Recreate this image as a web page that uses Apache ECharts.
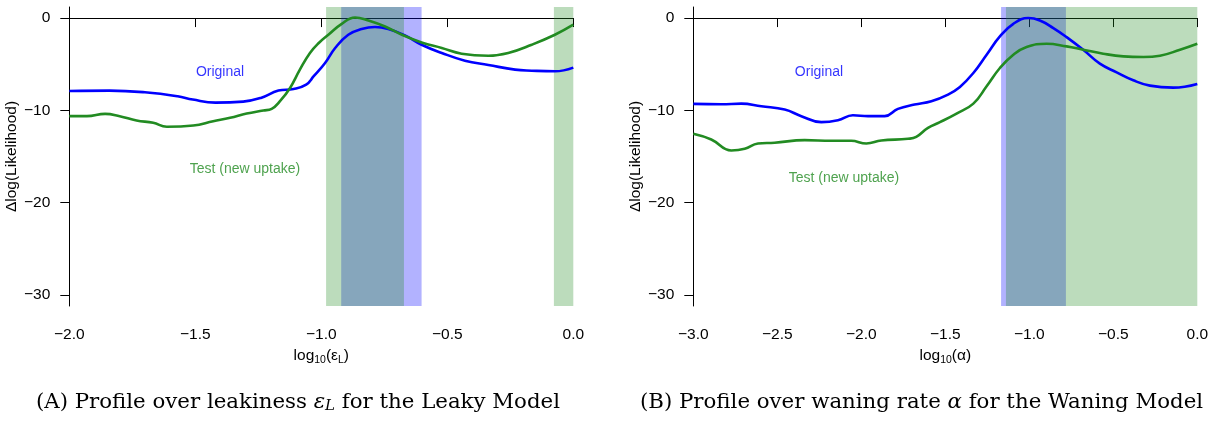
<!DOCTYPE html>
<html>
<head>
<meta charset="utf-8">
<script src="https://cdn.jsdelivr.net/npm/echarts@6/dist/echarts.min.js"></script>
<style>
html,body{margin:0;padding:0;background:#fff;}
#chart{width:1220px;height:426px;}
</style>
</head>
<body>
<div id="chart"></div>
<script>
// ---- Data ----
// Panel A: profile over log10(epsilon_L), Leaky Model
const leakOriginal = [
  [-2.0,-7.9],[-1.84,-7.86],[-1.70,-8.04],[-1.57,-8.47],[-1.51,-8.83],[-1.42,-9.16],
  [-1.31,-9.05],[-1.24,-8.65],[-1.17,-7.86],[-1.11,-7.68],[-1.06,-7.21],[-1.03,-6.3],
  [-0.985,-4.87],[-0.945,-3.24],[-0.893,-1.81],[-0.84,-1.19],[-0.787,-0.97],[-0.734,-1.19],
  [-0.668,-1.88],[-0.602,-2.89],[-0.522,-3.78],[-0.43,-4.62],[-0.337,-5.08],[-0.231,-5.59],
  [-0.165,-5.7],[-0.073,-5.77],[0.0,-5.37]
];
const leakTest = [
  [-2.0,-10.63],[-1.93,-10.63],[-1.858,-10.38],[-1.80,-10.63],[-1.733,-11.1],[-1.667,-11.35],
  [-1.613,-11.78],[-1.508,-11.64],[-1.429,-11.18],[-1.362,-10.81],[-1.296,-10.35],[-1.23,-10.02],
  [-1.197,-9.84],[-1.164,-9.01],[-1.124,-7.57],[-1.085,-5.59],[-1.045,-3.78],[-1.01,-2.7],
  [-0.972,-1.81],[-0.919,-0.62],[-0.866,0.07],[-0.813,-0.26],[-0.747,-0.91],[-0.68,-1.81],
  [-0.602,-2.64],[-0.522,-3.24],[-0.443,-3.86],[-0.337,-4.08],[-0.258,-3.78],[-0.165,-2.89],
  [-0.073,-1.81],[0.0,-0.72]
];
const leakOriginalCI = [[-0.921,-0.602]];
const leakTestCI = [[-0.981,-0.672],[-0.077,0.0]];

// Panel B: profile over log10(alpha), Waning Model
const waneOriginal = [
  [-3.0,-9.3],[-2.833,-9.34],[-2.714,-9.27],[-2.595,-9.56],[-2.456,-9.91],[-2.357,-10.63],
  [-2.238,-11.28],[-2.139,-11.07],[-2.05,-10.53],[-1.96,-10.63],[-1.861,-10.63],[-1.782,-9.84],
  [-1.683,-9.37],[-1.583,-9.01],[-1.484,-8.29],[-1.413,-7.46],[-1.333,-5.95],[-1.254,-3.97],
  [-1.175,-1.99],[-1.095,-0.62],[-1.006,0.0],[-0.937,-0.26],[-0.857,-1.08],[-0.778,-2.06],
  [-0.679,-3.43],[-0.58,-4.94],[-0.48,-5.88],[-0.381,-6.74],[-0.282,-7.32],[-0.143,-7.54],
  [0.0,-7.14]
];
const waneTest = [
  [-3.0,-12.54],[-2.893,-13.16],[-2.774,-14.35],[-2.694,-14.17],[-2.615,-13.59],[-2.516,-13.51],
  [-2.337,-13.23],[-2.179,-13.3],[-2.06,-13.3],[-1.97,-13.59],[-1.881,-13.27],[-1.722,-13.08],
  [-1.673,-12.87],[-1.603,-11.89],[-1.532,-11.28],[-1.433,-10.35],[-1.333,-9.27],[-1.254,-7.39],
  [-1.175,-5.41],[-1.095,-3.97],[-1.016,-3.14],[-0.897,-2.78],[-0.778,-3.07],[-0.679,-3.43],
  [-0.56,-3.86],[-0.44,-4.15],[-0.321,-4.22],[-0.222,-4.08],[-0.103,-3.43],[0.0,-2.78]
];
const waneOriginalCI = [[-1.168,-0.782]];
const waneTestCI = [[-1.139,0.0]];

// Axes
const xRangeA = [-2.0, 0.0];
const xRangeB = [-3.0, 0.0];
const xStep = 0.5;
const yRange = [-31.2, 1.2];
const yTicks = [0, -10, -20, -30];

// Annotations [x, y, text]
const labelsA = [[-1.402,-5.88,'Original'],[-1.303,-16.4,'Test (new uptake)']];
const labelsB = [[-2.252,-5.88,'Original'],[-2.103,-17.3,'Test (new uptake)']];

const captionA = ['(A) Profile over leakiness ', 'ε', 'L', ' for the Leaky Model'];
const captionB = ['(B) Profile over waning rate ', 'α', '', ' for the Waning Model'];

// ---- Styles ----
const BLUE = '#0000ff';
const GREEN = '#228b22';
const BLUE_A = 'rgba(0,0,255,0.3)';
const GREEN_A = 'rgba(34,139,34,0.3)';
const SANS = '"Liberation Sans", Arial, sans-serif';
const SERIF = '"DejaVu Serif", "Liberation Serif", serif';
const FS = 15.5;
const CAP_FS = 21.3;

const chart = echarts.init(document.getElementById('chart'), null, {renderer: 'canvas'});

function fmt(v){ return (v === 0 ? '0.0' : v.toFixed(1)).replace('-', '\u2212'); }
function fmtY(v){ return String(v).replace('-', '\u2212'); }

function xAxisCfg(idx, range, nameText){
  return {
    type: 'value', gridIndex: idx, min: range[0], max: range[1], interval: xStep,
    axisLine: {show: true, lineStyle: {color: '#000', width: 1}},
    axisTick: {show: true, length: 9, lineStyle: {color: '#000'}},
    axisLabel: {formatter: fmt, color: '#000', fontFamily: SANS, fontSize: FS, margin: 21},
    splitLine: {show: false},
    name: nameText, nameLocation: 'middle', nameGap: 38,
    nameTextStyle: {
      color: '#000', fontFamily: SANS, fontSize: FS,
      rich: {
        n: {fontFamily: SANS, fontSize: FS, color: '#000'},
        s: {fontFamily: SANS, fontSize: 10.5, color: '#000', padding: [8, 0, 0, 0]}
      }
    }
  };
}
function yAxisCfg(idx){
  return {
    type: 'value', gridIndex: idx, min: yRange[0], max: yRange[1],
    axisLine: {show: true, onZero: false, lineStyle: {color: '#000', width: 1}},
    axisTick: {show: true, length: 9, customValues: yTicks, lineStyle: {color: '#000'}},
    axisLabel: {customValues: yTicks, formatter: fmtY, color: '#000', fontFamily: SANS, fontSize: FS, margin: 19},
    splitLine: {show: false},
    name: 'Δlog(Likelihood)', nameLocation: 'middle', nameGap: 43, nameRotate: 90,
    nameTextStyle: {color: '#000', fontFamily: SANS, fontSize: FS}
  };
}
function lineSeries(idx, data, color){
  return {
    type: 'line', xAxisIndex: idx, yAxisIndex: idx, data: data, smooth: 0.45,
    symbol: 'none', lineStyle: {color: color, width: 2.6}, z: 2, silent: true
  };
}
function bandSeries(idx, ranges, color, z){
  return {
    type: 'line', xAxisIndex: idx, yAxisIndex: idx, data: [], z: z, silent: true,
    markArea: {
      silent: true,
      itemStyle: {color: color, borderWidth: 0},
      data: ranges.map(r => [{xAxis: r[0], yAxis: yRange[0]}, {xAxis: r[1], yAxis: yRange[1]}])
    }
  };
}
function textSeries(idx, labels){
  return labels.map((l, i) => ({
    type: 'scatter', xAxisIndex: idx, yAxisIndex: idx, symbolSize: 0, silent: true, z: 5,
    data: [[l[0], l[1]]],
    label: {show: true, position: 'inside', formatter: l[2], color: i === 0 ? BLUE : GREEN,
            fontFamily: SANS, fontSize: 14}
  }));
}
function captionRich(c){
  const sub = c[2] ? '{is|' + c[2] + '}' : '';
  return '{r|' + c[0] + '}{i|' + c[1] + '}' + sub + '{r|' + c[3] + '}';
}
const capRich = {
  r: {fontFamily: SERIF, fontSize: CAP_FS, color: '#000'},
  i: {fontFamily: SERIF, fontSize: CAP_FS, fontStyle: 'italic', color: '#000'},
  is: {fontFamily: SERIF, fontSize: 15, fontStyle: 'italic', color: '#000', padding: [9, 0, 0, 0]}
};

const option = {
  animation: false,
  backgroundColor: '#fff',
  grid: [
    {left: 69.3, top: 7, width: 504, height: 299, containLabel: false},
    {left: 693.3, top: 7, width: 504, height: 299, containLabel: false}
  ],
  xAxis: [
    xAxisCfg(0, xRangeA, '{n|log}{s|10}{n|(ε}{s|L}{n|)}'),
    xAxisCfg(1, xRangeB, '{n|log}{s|10}{n|(α)}')
  ],
  yAxis: [yAxisCfg(0), yAxisCfg(1)],
  series: [
    lineSeries(0, leakOriginal, BLUE),
    lineSeries(0, leakTest, GREEN),
    bandSeries(0, leakOriginalCI, BLUE_A, 3),
    bandSeries(0, leakTestCI, GREEN_A, 4),
    ...textSeries(0, labelsA),
    lineSeries(1, waneOriginal, BLUE),
    lineSeries(1, waneTest, GREEN),
    bandSeries(1, waneOriginalCI, BLUE_A, 3),
    bandSeries(1, waneTestCI, GREEN_A, 4),
    ...textSeries(1, labelsB)
  ],
  graphic: [
    {type: 'text', x: 36, y: 402, style: {text: captionRich(captionA), rich: capRich, verticalAlign: 'middle', align: 'left'}},
    {type: 'text', x: 640, y: 402, style: {text: captionRich(captionB), rich: capRich, verticalAlign: 'middle', align: 'left'}}
  ]
};
chart.setOption(option);
</script>
</body>
</html>
